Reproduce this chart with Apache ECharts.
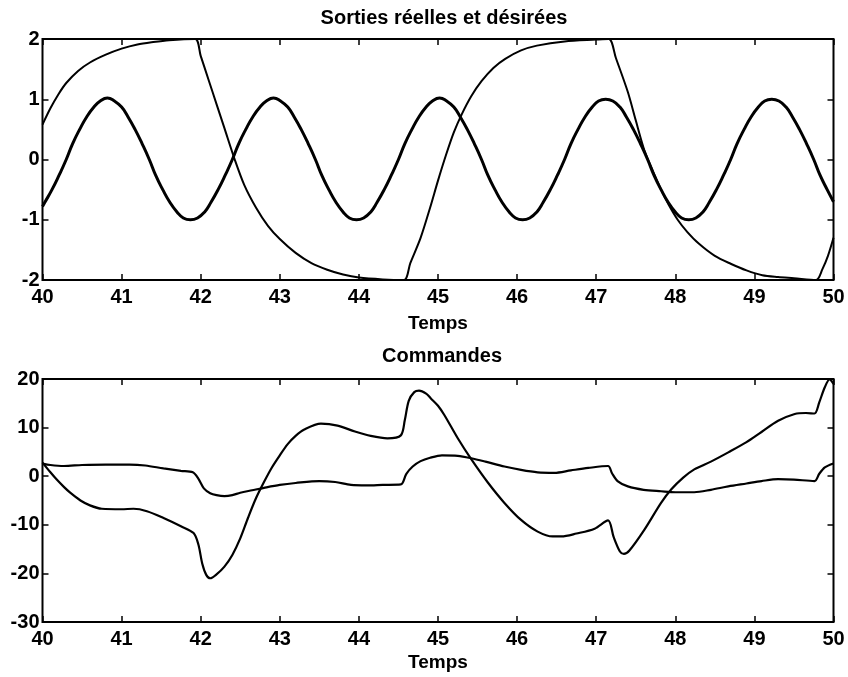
<!DOCTYPE html>
<html>
<head>
<meta charset="utf-8">
<script src="https://cdn.jsdelivr.net/npm/echarts@6/dist/echarts.min.js"></script>
<style>
html,body{margin:0;padding:0;background:#fff;}
#chart{width:848px;height:677px;}
</style>
</head>
<body>
<div id="chart"></div>
<script>
// ---- Data ----
var titleTop = "Sorties réelles et désirées";
var titleBottom = "Commandes";
var xName = "Temps";

// desired output (thick sinusoid)
var desiredOutput = [
  [40.0,-0.78],[40.03,-0.71],[40.12,-0.5],[40.21,-0.26],[40.30,0],[40.38,0.26],[40.47,0.5],
  [40.56,0.71],[40.65,0.87],[40.73,0.97],[40.82,1.02],[40.91,0.97],[41.0,0.87],[41.08,0.71],
  [41.17,0.5],[41.26,0.26],[41.35,0],[41.43,-0.26],[41.52,-0.5],[41.61,-0.71],[41.70,-0.87],
  [41.78,-0.97],[41.87,-1.0],[41.96,-0.97],[42.05,-0.87],[42.13,-0.71],[42.22,-0.5],[42.31,-0.26],
  [42.40,0],[42.48,0.26],[42.57,0.5],[42.66,0.71],[42.75,0.87],[42.83,0.97],[42.92,1.02],
  [43.01,0.97],[43.10,0.87],[43.18,0.71],[43.27,0.5],[43.36,0.26],[43.45,0],[43.53,-0.26],
  [43.62,-0.5],[43.71,-0.71],[43.80,-0.87],[43.88,-0.97],[43.97,-1.0],[44.06,-0.97],[44.15,-0.87],
  [44.23,-0.71],[44.32,-0.5],[44.41,-0.26],[44.50,0],[44.58,0.26],[44.67,0.5],[44.76,0.71],
  [44.85,0.87],[44.93,0.97],[45.02,1.02],[45.11,0.97],[45.20,0.87],[45.28,0.71],[45.37,0.5],
  [45.46,0.26],[45.55,0],[45.63,-0.26],[45.72,-0.5],[45.81,-0.71],[45.90,-0.87],[45.98,-0.97],
  [46.07,-1.0],[46.16,-0.97],[46.25,-0.87],[46.33,-0.71],[46.42,-0.5],[46.51,-0.26],[46.60,0],
  [46.68,0.26],[46.77,0.5],[46.86,0.71],[46.95,0.87],[47.03,0.97],[47.12,1.0],[47.21,0.97],
  [47.30,0.87],[47.38,0.71],[47.47,0.5],[47.56,0.26],[47.65,0],[47.73,-0.26],[47.82,-0.5],
  [47.91,-0.71],[48.00,-0.87],[48.08,-0.97],[48.17,-1.0],[48.26,-0.97],[48.35,-0.87],[48.43,-0.71],
  [48.52,-0.5],[48.61,-0.26],[48.70,0],[48.78,0.26],[48.87,0.5],[48.96,0.71],[49.05,0.87],
  [49.13,0.97],[49.22,1.0],[49.31,0.97],[49.40,0.87],[49.48,0.71],[49.57,0.5],[49.66,0.26],
  [49.75,0],[49.83,-0.26],[49.92,-0.5],[50.0,-0.7]
];

// actual output (thin line)
var actualOutput = [
  [40.0,0.58],[40.1,0.85],[40.2,1.08],[40.3,1.27],[40.45,1.47],[40.6,1.61],[40.8,1.74],
  [41.0,1.84],[41.2,1.91],[41.4,1.95],[41.6,1.98],[41.93,2.0],[42.0,1.72],[42.1,1.32],
  [42.2,0.92],[42.3,0.52],[42.43,0.0],[42.55,-0.42],[42.7,-0.8],[42.85,-1.1],[43.0,-1.32],
  [43.2,-1.55],[43.4,-1.72],[43.6,-1.83],[43.8,-1.91],[44.0,-1.96],[44.3,-1.99],[44.57,-2.0],
  [44.65,-1.72],[44.78,-1.3],[44.9,-0.8],[45.0,-0.35],[45.1,0.07],[45.2,0.45],[45.3,0.75],
  [45.42,1.05],[45.55,1.3],[45.7,1.52],[45.85,1.67],[46.05,1.81],[46.25,1.89],[46.6,1.96],
  [47.0,1.99],[47.16,2.0],[47.25,1.68],[47.4,1.12],[47.5,0.65],[47.61,0.15],[47.72,-0.2],
  [47.82,-0.5],[47.92,-0.76],[48.03,-1.0],[48.15,-1.2],[48.3,-1.4],[48.5,-1.6],[48.7,-1.73],
  [48.9,-1.84],[49.1,-1.92],[49.3,-1.95],[49.5,-1.97],[49.78,-2.0],[49.86,-1.82],[49.93,-1.6],
  [50.0,-1.3]
];

// command 1 (small amplitude)
var command1 = [
  [40.0,2.6],[40.1,2.3],[40.27,2.1],[40.5,2.3],[40.8,2.4],[41.1,2.4],[41.3,2.2],[41.53,1.6],
  [41.75,1.1],[41.9,0.8],[41.97,-0.5],[42.04,-2.5],[42.12,-3.5],[42.2,-3.9],[42.3,-4.1],
  [42.4,-3.9],[42.5,-3.4],[42.65,-2.9],[42.8,-2.4],[43.0,-1.8],[43.2,-1.4],[43.5,-1.0],
  [43.7,-1.2],[43.9,-1.8],[44.1,-1.9],[44.3,-1.8],[44.53,-1.7],[44.6,0.5],[44.68,2.0],
  [44.78,3.1],[44.9,3.8],[45.05,4.3],[45.25,4.2],[45.42,3.7],[45.6,3.0],[45.84,2.0],
  [46.05,1.3],[46.26,0.8],[46.47,0.7],[46.68,1.2],[46.9,1.7],[47.15,2.1],[47.2,0.6],
  [47.27,-1.0],[47.4,-2.1],[47.6,-2.8],[47.82,-3.1],[48.0,-3.3],[48.24,-3.3],[48.45,-2.8],
  [48.67,-2.1],[48.9,-1.5],[49.09,-1.0],[49.3,-0.6],[49.5,-0.7],[49.76,-1.0],[49.82,0.5],
  [49.89,1.8],[50.0,2.6]
];

// command 2 (large amplitude)
var command2 = [
  [40.0,2.8],[40.1,0.8],[40.18,-0.7],[40.27,-2.2],[40.35,-3.4],[40.48,-5.0],[40.6,-6.0],
  [40.75,-6.7],[41.0,-6.8],[41.15,-6.7],[41.32,-7.2],[41.53,-8.6],[41.75,-10.3],[41.91,-11.7],
  [41.97,-14.0],[42.02,-18.0],[42.07,-20.3],[42.12,-21.0],[42.2,-20.2],[42.3,-18.6],
  [42.4,-16.2],[42.5,-12.8],[42.6,-8.5],[42.7,-4.5],[42.8,-1.2],[42.9,1.8],[43.0,4.3],
  [43.1,6.6],[43.2,8.3],[43.31,9.6],[43.52,10.8],[43.73,10.4],[43.95,9.2],[44.15,8.3],
  [44.36,7.8],[44.53,8.4],[44.58,11.5],[44.63,15.5],[44.7,17.3],[44.76,17.6],[44.85,17.0],
  [44.91,16.0],[45.0,14.5],[45.08,12.6],[45.25,7.8],[45.42,3.5],[45.63,-1.3],[45.84,-5.5],
  [46.05,-9.0],[46.26,-11.4],[46.45,-12.4],[46.56,-12.4],[46.75,-11.8],[46.98,-10.8],
  [47.15,-9.1],[47.22,-12.5],[47.3,-15.5],[47.35,-16.0],[47.42,-15.3],[47.61,-11.0],
  [47.82,-5.5],[47.95,-2.7],[48.1,-0.3],[48.24,1.4],[48.45,3.0],[48.67,4.9],[48.9,7.0],
  [49.09,9.1],[49.3,11.4],[49.51,12.8],[49.65,13.0],[49.76,12.9],[49.82,15.2],[49.89,18.3],
  [49.95,19.9],[50.0,19.0]
];

var xRange = [40, 50, 1];
var yTopRange = [-2, 2, 1];
var yBottomRange = [-30, 20, 10];

// ---- Chart ----
var FONT = "'Liberation Sans', Arial, Helvetica, sans-serif";
var chart = echarts.init(document.getElementById('chart'), null, {renderer: 'canvas'});

function xAxisDef(gridIndex, pos, showLabel, nameGap) {
  return {
    type: 'value', gridIndex: gridIndex, position: pos,
    min: xRange[0], max: xRange[1], interval: xRange[2],
    name: showLabel ? xName : '', nameLocation: 'middle', nameGap: nameGap,
    nameTextStyle: {color: '#000', fontFamily: FONT, fontWeight: 'bold', fontSize: 19},
    axisLine: {show: false, onZero: false},
    axisTick: {show: true, inside: true, length: 6, lineStyle: {color: '#000', width: 1.5}},
    axisLabel: {show: showLabel, color: '#000', fontFamily: FONT, fontWeight: 'bold', fontSize: 20, margin: 7},
    splitLine: {show: false}
  };
}
function yAxisDef(gridIndex, pos, range, showLabel) {
  return {
    type: 'value', gridIndex: gridIndex, position: pos,
    min: range[0], max: range[1], interval: range[2],
    axisLine: {show: false, onZero: false},
    axisTick: {show: true, inside: true, length: 6, lineStyle: {color: '#000', width: 1.5}},
    axisLabel: {show: showLabel, color: '#000', fontFamily: FONT, fontWeight: 'bold', fontSize: 20, margin: 3},
    splitLine: {show: false}
  };
}

var option = {
  backgroundColor: '#fff',
  animation: false,
  graphic: [
    {type: 'text', style: {text: titleTop, x: 444, y: 18, textAlign: 'center', textVerticalAlign: 'middle', font: 'bold 20px ' + FONT, fill: '#000'}},
    {type: 'text', style: {text: titleBottom, x: 442, y: 356, textAlign: 'center', textVerticalAlign: 'middle', font: 'bold 20px ' + FONT, fill: '#000'}}
  ],
  grid: [
    {left: 42.5, top: 39, width: 791, height: 241, show: true, borderColor: '#000', borderWidth: 2, containLabel: false},
    {left: 42.5, top: 379, width: 791, height: 243, show: true, borderColor: '#000', borderWidth: 2, containLabel: false}
  ],
  xAxis: [
    xAxisDef(0, 'bottom', true, 34),
    xAxisDef(0, 'top', false, 0),
    xAxisDef(1, 'bottom', true, 31),
    xAxisDef(1, 'top', false, 0)
  ],
  yAxis: [
    yAxisDef(0, 'left', yTopRange, true),
    yAxisDef(0, 'right', yTopRange, false),
    yAxisDef(1, 'left', yBottomRange, true),
    yAxisDef(1, 'right', yBottomRange, false)
  ],
  series: [
    {type: 'line', xAxisIndex: 0, yAxisIndex: 0, data: desiredOutput, showSymbol: false, smooth: true,
     lineStyle: {color: '#000', width: 3}},
    {type: 'line', xAxisIndex: 0, yAxisIndex: 0, data: actualOutput, showSymbol: false, smooth: 0.3,
     lineStyle: {color: '#000', width: 2}},
    {type: 'line', xAxisIndex: 2, yAxisIndex: 2, data: command1, showSymbol: false, smooth: 0.3,
     lineStyle: {color: '#000', width: 2.2}},
    {type: 'line', xAxisIndex: 2, yAxisIndex: 2, data: command2, showSymbol: false, smooth: 0.3,
     lineStyle: {color: '#000', width: 2.2}}
  ]
};
chart.setOption(option);
</script>
</body>
</html>
